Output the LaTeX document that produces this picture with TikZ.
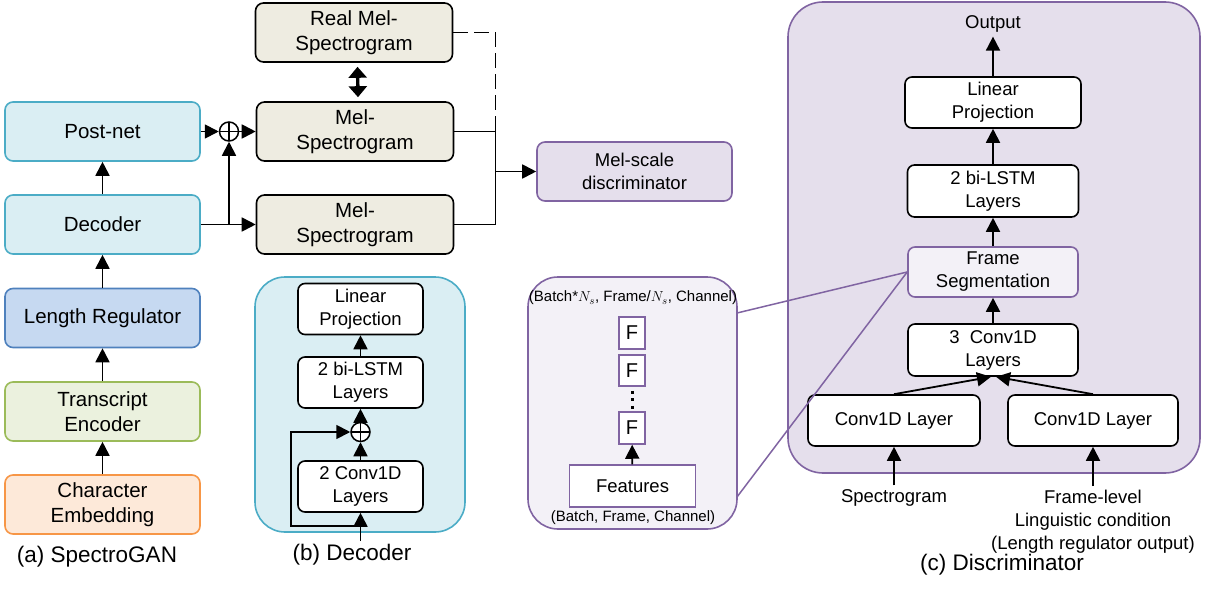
\documentclass[tikz,border=0pt]{standalone}
\usepackage{fontspec}
\setmainfont{Liberation Sans}
\usetikzlibrary{arrows.meta,positioning,calc}

\definecolor{tealfill}{HTML}{DAEEF3}
\definecolor{tealline}{HTML}{4BACC6}
\definecolor{bluefill}{HTML}{C6D9F1}
\definecolor{blueline}{HTML}{4F81BD}
\definecolor{greenfill}{HTML}{EBF1DE}
\definecolor{greenline}{HTML}{9BBB59}
\definecolor{orangefill}{HTML}{FDE9D9}
\definecolor{orangeline}{HTML}{F79646}
\definecolor{melfill}{HTML}{EEECE1}
\definecolor{discfill}{HTML}{E5DFEC}
\definecolor{featfill}{HTML}{F3F1F7}
\definecolor{purpline}{HTML}{8064A2}

\tikzset{
    every node/.style={font=\fontsize{18.5}{23}\selectfont, align=center},
    main box/.style={draw, line width=1.6pt, rounded corners=8pt, inner sep=0pt,
        minimum width=195pt, minimum height=59pt, font=\fontsize{20.5}{25}\selectfont},
    mel box/.style={main box, fill=melfill, minimum width=197pt},
    layer box/.style={draw, fill=white, line width=1.6pt, rounded corners=7pt, inner sep=0pt,
        minimum width=125pt, minimum height=51pt},
    f box/.style={draw=purpline, fill=white, line width=1.5pt, inner sep=0pt,
        minimum width=26pt, minimum height=32pt, font=\fontsize{20}{24}\selectfont},
    sum node/.style={circle, draw, fill=white, line width=1.5pt, minimum size=19pt, inner sep=0pt,
        path picture={\draw[line width=1.3pt] (path picture bounding box.north) -- (path picture bounding box.south)
            (path picture bounding box.west) -- (path picture bounding box.east);}},
    panel/.style={line width=1.6pt, rounded corners=30pt},
    caption/.style={font=\fontsize{22.5}{26}\selectfont},
    small label/.style={font=\fontsize{15}{18}\selectfont, inner sep=0pt}
}

\begin{document}
\begin{tikzpicture}[
        x = 1pt, y = -1pt, % pixel grid of the reference, y pointing down
        > = {Triangle[length=14pt, width=14pt]}, % arrow head style
        line width = 1.8pt
    ]
    \useasboundingbox (0,0) rectangle (1212,591);

    % panels in the background
    \draw[panel, fill=tealfill, draw=tealline] (255,277) rectangle (465,532);
    \draw[panel, fill=featfill, draw=purpline] (528,277) rectangle (737,529);
    \draw[panel, fill=discfill, draw=purpline, rounded corners=35pt] (788,2) rectangle (1200,473);

    % (a) SpectroGAN
    \node[main box, fill=tealfill, draw=tealline] (post) at (102.5,131.5) {Post-net};
    \node[main box, fill=tealfill, draw=tealline] (dec) at (102.5,224.5) {Decoder};
    \node[main box, fill=bluefill, draw=blueline] (lenreg) at (102.5,318) {Length Regulator};
    \node[main box, fill=greenfill, draw=greenline] (enc) at (102.5,411.5) {Transcript\\Encoder};
    \node[main box, fill=orangefill, draw=orangeline] (emb) at (102.5,504.5) {Character\\Embedding};
    \node[caption] (capa) at (97,557) {(a) SpectroGAN};

    \draw[->] (emb) -- (enc);
    \draw[->] (enc) -- (lenreg);
    \draw[->] (lenreg) -- (dec);
    \draw[->] (dec) -- (post);

    \node[mel box] (real) at (354,32.5) {Real Mel-\\Spectrogram};
    \node[mel box] (melA) at (355,131.5) {Mel-\\Spectrogram};
    \node[mel box] (melB) at (355,224.5) {Mel-\\Spectrogram};
    \node[sum node] (sum) at (229,131.5) {};
    \node[main box, fill=discfill, draw=purpline, font=\fontsize{18.5}{23}\selectfont] (msd) at (634.5,171.5) {Mel-scale\\discriminator};

    \draw[->] (post) -- (sum);
    \draw[->] (sum) -- (melA);
    \draw[->] (dec.east) -- (melB.west);
    \draw[->] (sum |- dec.east) -- (sum);
    \draw[<->, line width=3.4pt, >={Triangle[length=11pt, width=18pt]}]
        ([xshift=3.5pt, yshift=-4pt]real.south) -- ([xshift=3pt, yshift=4pt]melA.north);

    \coordinate (join) at (495.5,171.5);
    \draw (melA.east) -| (join |- melB.east) -- (melB.east);
    \draw[dash pattern=on 15pt off 6pt] (real.east) -| (join);
    \draw[->] (join) -- (msd);

    % (b) Decoder
    \node[layer box] (dlin) at (360.5,309) {Linear\\Projection};
    \node[layer box] (dlstm) at (360.5,382.5) {2 bi-LSTM\\Layers};
    \node[sum node] (dsum) at (360.5,432) {};
    \node[layer box] (dconv) at (360.5,486.5) {2 Conv1D\\Layers};
    \coordinate (din) at (360.5,541);
    \coordinate (skip) at (291,526);
    \node[caption] (capb) at (352,555) {(b) Decoder};

    \draw[->] (din) -- (dconv);
    \draw[->] (dconv) -- (dsum);
    \draw[->] (dsum) -- (dlstm);
    \draw[->] (dlstm) -- (dlin);
    \draw[->] (din |- skip) -- (skip) |- (dsum);

    % frame segmentation detail
    \node[small label] (shapeout) at (633,298) {(Batch*$N_s$, Frame/$N_s$, Channel)};
    \node[f box] (f1) at (632,333) {F};
    \node[f box, minimum height=31pt] (f2) at (632,370.5) {F};
    \node[f box] (f3) at (632,428) {F};
    \node[draw=purpline, fill=white, line width=1.5pt, minimum width=126pt, minimum height=42pt, inner sep=0pt] (feat) at (632.5,486) {Features};
    \node[small label] (shapein) at (633,518) {(Batch, Frame, Channel)};

    \draw[line width=3pt, dash pattern=on 3pt off 4.5pt, shorten <=4pt] (f2) -- (f3);
    \draw[->] (feat) -- (f3);

    % (c) Discriminator
    \node (out) at (993,24) {Output};
    \node[layer box, minimum width=176pt] (clin) at (993,102.5) {Linear\\Projection};
    \node[layer box, minimum width=171pt, minimum height=52pt] (clstm) at (993,191) {2 bi-LSTM\\Layers};
    \node[layer box, fill=featfill, draw=purpline, minimum width=170pt, minimum height=50pt] (fseg) at (993,272) {Frame\\Segmentation};
    \node[layer box, minimum width=170pt, minimum height=52pt] (cconv) at (993,350) {3\ \ Conv1D\\Layers};
    \node[layer box, minimum width=172pt] (convL) at (894,420.5) {Conv1D Layer};
    \node[layer box, minimum width=170pt] (convR) at (1093,420.5) {Conv1D Layer};
    \node (spec) at (894,498) {Spectrogram};
    \node (cond) at (1093,522) {Frame-level\\Linguistic condition\\(Length regulator output)};
    \node[caption] (capc) at (1002,565) {(c) Discriminator};

    \draw[->] (clin) -- (out);
    \draw[->] (clstm) -- (clin);
    \draw[->] (fseg) -- (clstm);
    \draw[->] (cconv) -- (fseg);
    \draw[->] (convL.north) -- ([xshift=-2pt]cconv.south);
    \draw[->] (convR.north) -- ([xshift=3pt]cconv.south);
    \draw[->] (spec) -- (convL);
    \draw[->] (cond) -- (convR);

    % zoom lines to the detail panel
    \coordinate (zoomA) at (737,313);
    \coordinate (zoomB) at (737,497);
    \draw[purpline, line width=1.5pt] (zoomA) -- (fseg.west);
    \draw[purpline, line width=1.5pt] (zoomB) -- (fseg.west);

\end{tikzpicture}
\end{document}
